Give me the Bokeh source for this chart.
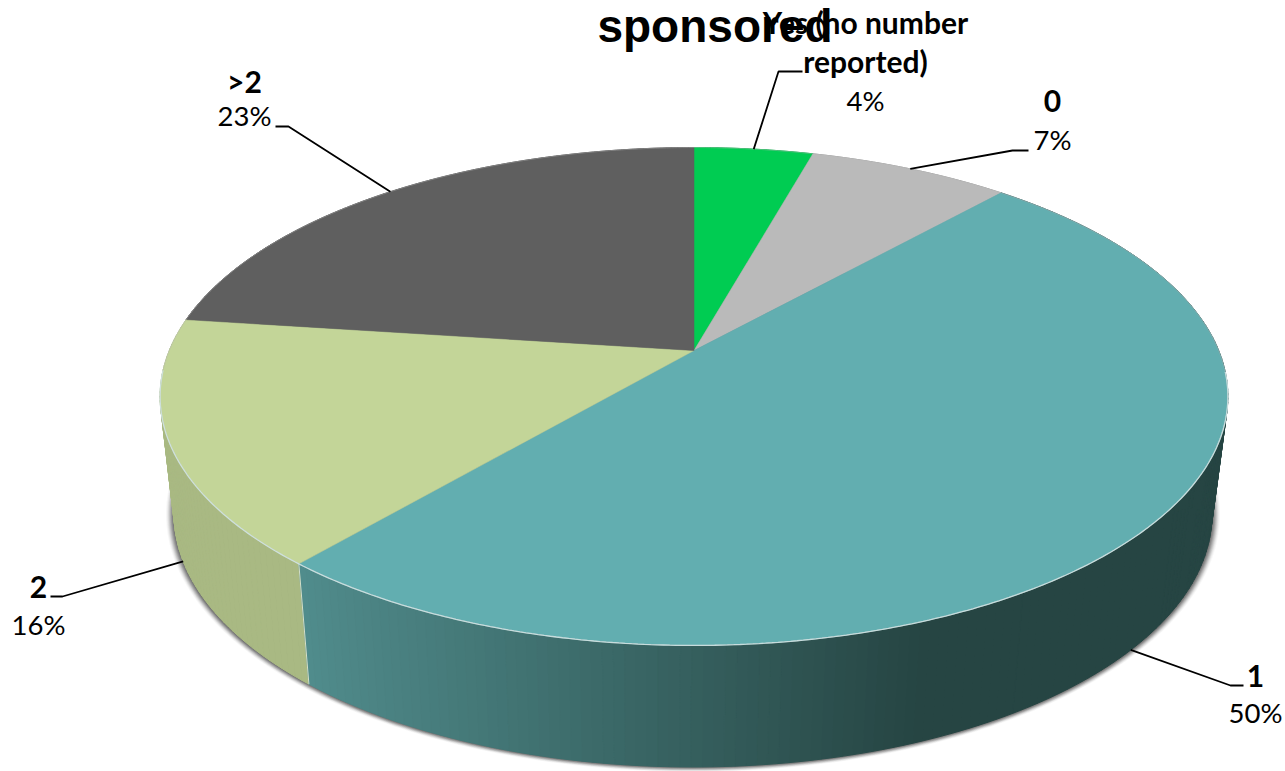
import numpy as np
from bokeh.plotting import figure
from bokeh.models import Range1d
from bokeh.core.properties import value
from bokeh.embed import file_html
from bokeh.resources import INLINE

title_text = "sponsored"
categories = ["Yes (no number\nreported)", "0", "1", "2", ">2"]
shares = [4.3, 7.3, 49.6, 15.9, 22.9]
pct_labels = ["4%", "7%", "50%", "16%", "23%"]

top_colors = ["#00CC52", "#BABABA", "#62AEB0", "#C3D598", "#5F5F5F"]
side_left = ["#00A040", "#949494", "#508C8C", "#A9B983", "#4A4A4A"]
side_right = ["#00A040", "#949494", "#264543", "#A2B07E", "#4A4A4A"]

# perspective pie model, in page pixels
C = 0.1847
TOP = dict(x0=693.5, A=524.7, a=-175.8, b=350.0)
BOT = dict(x0=692.5, A=510.0, a=-157.9, b=467.0)


def project(m, t):
    X, Y = np.sin(t), np.cos(t)
    d = 1 + C * Y
    return m["x0"] + m["A"] * X / d, (m["a"] * Y + m["b"]) / d


def hexmix(c1, c2, f):
    a = [int(c1[i:i + 2], 16) for i in (1, 3, 5)]
    b = [int(c2[i:i + 2], 16) for i in (1, 3, 5)]
    return "#%02x%02x%02x" % tuple(int(round(u + (v - u) * f)) for u, v in zip(a, b))


p = figure(width=1285, height=771, output_backend="svg", toolbar_location=None,
           x_range=Range1d(0, 1285), y_range=Range1d(771, 0),
           x_axis_type=None, y_axis_type=None, min_border=0)
p.outline_line_color = None
p.grid.visible = False

edges = np.cumsum([0] + shares) / sum(shares) * 2 * np.pi
mids = (edges[:-1] + edges[1:]) / 2

# soft shadow beneath the lower rim
tt = np.linspace(0, 2 * np.pi, 361)
bx, by = project(BOT, tt)
for k, al in zip([8, 7, 6, 5, 4, 3, 2, 1], [.04, .06, .09, .12, .15, .18, .2, .22]):
    cx, cy = 692.5, 514.0
    p.patch(cx + (bx - cx) * (1 + k / 517), cy + (by - cy) * (1 + k * .6 / 253),
            fill_color="#303030", fill_alpha=al, line_color=None)

# rim, as thin strips going from back to front
xs, ys, cols = [], [], []
for i in range(len(shares)):
    n = max(4, int((edges[i + 1] - edges[i]) / np.radians(1)))
    ts = np.linspace(edges[i], edges[i + 1], n + 1)
    for t0, t1 in zip(ts[:-1], ts[1:]):
        x0, y0 = project(TOP, np.array([t0, t1]))
        x1, y1 = project(BOT, np.array([t1, t0]))
        f = np.clip((x0.mean() - 300) / 620, 0, 1)
        xs.append(list(x0) + list(x1))
        ys.append(list(y0) + list(y1))
        cols.append(hexmix(side_left[i], side_right[i], f))
order = np.argsort([min(y) for y in ys])
p.patches([xs[j] for j in order], [ys[j] for j in order],
          fill_color=[cols[j] for j in order], line_color=[cols[j] for j in order], line_width=1)

# bright seam on the front boundary between the two rim slices
sx0, sy0 = project(TOP, edges[3])
sx1, sy1 = project(BOT, edges[3])
p.line([sx0, sx1], [sy0, sy1], line_color="#D5DFC8", line_width=1)

# top face
ax, ay = TOP["x0"], TOP["b"]
for i in range(len(shares)):
    n = max(4, int((edges[i + 1] - edges[i]) / np.radians(0.5)))
    ts = np.linspace(edges[i], edges[i + 1], n + 1)
    fx, fy = project(TOP, ts)
    p.patch([ax] + list(fx), [ay] + list(fy), fill_color=top_colors[i],
            line_color=top_colors[i], line_width=0.5)

# pale rim highlight
back = np.linspace(0, 2 * np.pi, 500)
hx, hy = project(TOP, back)
p.line(hx, hy, line_color="#C0C0C0", line_width=0.8, line_alpha=0.5)
front = np.linspace(np.radians(95), edges[3] + np.radians(45), 300)
hx, hy = project(TOP, front)
p.line(hx, hy, line_color="#CFE2E2", line_width=1.3, line_alpha=0.9)

# leader lines: anchored on the pie, then elbow and end in page pixels
leaders = [
    (project(TOP, mids[0]), (778, 71), (802, 71)),
    (project(TOP, mids[1]), (1012, 150), (1028, 150)),
    (project(BOT, mids[2]), (1230, 685), (1243, 685)),
    (project(BOT, mids[3]), (62, 596), (50, 596)),
    (project(TOP, mids[4]), (288, 126), (275, 126)),
]
for a, b, c in leaders:
    p.line([a[0], b[0], c[0]], [a[1], b[1], c[1]], line_color="#000000", line_width=1.8)

LABEL = value("Lato")
label_pos = [(865, [21, 60], 100), (1052, [100], 139), (1255, [675], 712), (38, [586], 624), (244, [80], 115)]
for cat, pct, (x, name_ys, pct_y) in zip(categories, pct_labels, label_pos):
    for line, y in zip(cat.split("\n"), name_ys):
        p.text([x], [y], text=[line], text_font=LABEL, text_font_style="bold",
               text_font_size="30px", text_align="center", text_baseline="alphabetic", text_color="#000000")
    p.text([x], [pct_y], text=[pct], text_font=LABEL, text_font_size="27.5px",
           text_align="center", text_baseline="alphabetic", text_color="#000000")

p.text([714.5], [25], text=[title_text], text_font=value("Liberation Sans"), text_font_style="bold",
       text_font_size="46px", text_align="center", text_baseline="alphabetic", text_color="#000000")

open("out.html", "w").write(file_html(p, INLINE))
